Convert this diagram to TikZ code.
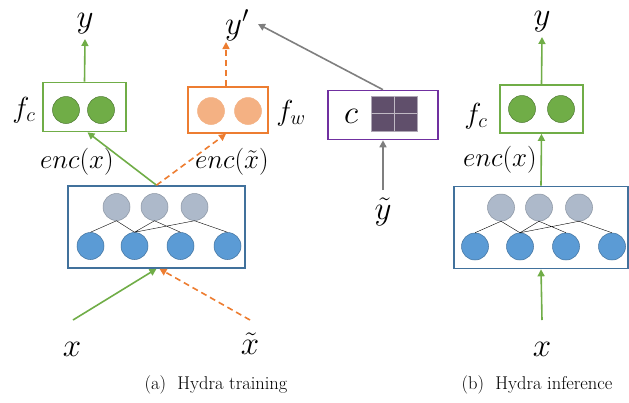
\documentclass[tikz,border=0pt]{standalone}
\usepackage{fix-cm}
\usepackage{amsmath}
\usetikzlibrary{arrows.meta}

\definecolor{grn}{HTML}{70AD47}
\definecolor{org}{HTML}{ED7D31}
\definecolor{peach}{HTML}{F4B183}
\definecolor{encblue}{HTML}{41719C}
\definecolor{inblue}{HTML}{5B9BD5}
\definecolor{hidgray}{HTML}{ADB9CA}
\definecolor{purp}{HTML}{7030A0}
\definecolor{cgrid}{HTML}{604F6B}
\definecolor{arrgray}{HTML}{7F7F7F}

\tikzset{
  box/.style={draw, line width=1.6pt, fill=white, inner sep=0pt},
  unit/.style={circle, draw, line width=0.5pt, inner sep=0pt, minimum size=27pt},
  hid/.style={unit, fill=hidgray, draw=hidgray!80!black},
  inp/.style={unit, fill=inblue, draw=encblue},
  lbl/.style={inner sep=1pt, font=\fontsize{27}{30}\selectfont},
  biglbl/.style={inner sep=1pt, font=\fontsize{33}{36}\selectfont},
  fnlbl/.style={inner sep=1pt, font=\fontsize{29}{32}\selectfont},
  captxt/.style={font=\fontsize{18.5}{20}\selectfont},
  tip/.style={-{Triangle[length=7pt,width=7pt]}},
  garr/.style={tip, draw=grn, line width=1.6pt},
  oarr/.style={tip, draw=org, line width=1.6pt, dash pattern=on 6pt off 4pt},
  karr/.style={tip, draw=arrgray, line width=1.6pt}
}

\begin{document}
\begin{tikzpicture}[x=1pt, y=-1pt]
\useasboundingbox (0,0) rectangle (629,402);

% (a) training
\node[box, draw=encblue, minimum width=177pt, minimum height=82pt] (enca) at (156.5,227) {};
\foreach \dx [count=\i] in {-40,-2,38}
  \node[hid] (ha\i) at ([xshift=\dx pt, yshift=20pt]enca.center) {};
\foreach \dx [count=\i] in {-66,-22,24,71}
  \node[inp] (ia\i) at ([xshift=\dx pt, yshift=-19pt]enca.center) {};
\draw (ha1.south) -- (ia1.north) (ha1.south) -- (ia2.north)
      (ha2.south) -- (ia2.north) (ha2.south) -- (ia3.north)
      (ha3.south) -- (ia2.north) (ha3.south) -- (ia4.north);

\node[box, draw=grn, minimum width=83pt, minimum height=49pt] (fca) at (84.5,107) {};
\node[unit, fill=grn, draw=grn!70!black] (ca1) at (66,110) {};
\node[unit, fill=grn, draw=grn!70!black] (ca2) at (101,110) {};
\node[box, draw=org, minimum width=80pt, minimum height=46pt] (fwa) at (228,110) {};
\node[unit, fill=peach, draw=peach] (wa1) at (211,111) {};
\node[unit, fill=peach, draw=peach] (wa2) at (248,111) {};

\node[fnlbl] (fcla) at (24,110) {$f_c$};
\node[fnlbl] (fwla) at (291,113) {$f_w$};
\node[biglbl] (ya) at (85,24) {$y$};
\node[biglbl] (ypr) at (237,25) {$y'$};
\node[lbl] (encxa) at (77,162) {$enc(x)$};
\node[lbl] (encxt) at (232,162) {$enc(\tilde{x})$};
\node[biglbl] (xa) at (72,349) {$x$};
\node[biglbl] (xt) at (250,344) {$\tilde{x}$};

\coordinate (xa0) at (73,320);
\coordinate (xt0) at (250,320);
\draw[garr] (fca.north) -- (85,39);
\draw[oarr] ([xshift=-2pt]fwa.north) -- (226,42);
\draw[garr] (enca.north) -- ([xshift=3pt]fca.south);
\draw[oarr] (enca.north) -- ([xshift=-2pt]fwa.south);
\draw[garr] (xa0) -- (enca.south);
\draw[oarr] (xt0) -- ([xshift=3pt]enca.south);

\node[captxt] (capa) at (216,385) {(a)\ \ Hydra training};

% c
\node[box, draw=purp, minimum width=110pt, minimum height=49pt] (cbox) at (383,115) {};
\node[biglbl] (cl) at (351,116) {$c$};
\node[fill=cgrid, draw=cgrid!50!white, line width=0.6pt, minimum width=46pt, minimum height=35pt, inner sep=0pt] (grid) at (394,113.5) {};
\draw[cgrid!40!white, line width=0.8pt] (grid.north) -- (grid.south) (grid.west) -- (grid.east);
\node[biglbl] (yt) at (383,212) {$\tilde{y}$};
\draw[karr] (cbox.north) -- (258,24);
\draw[karr] (383,190) -- (cbox.south);

% (b) inference
\node[box, draw=encblue, minimum width=174pt, minimum height=82pt] (encb) at (541,227.5) {};
\foreach \dx [count=\i] in {-40,-2,38}
  \node[hid] (hb\i) at ([xshift=\dx pt, yshift=20pt]encb.center) {};
\foreach \dx [count=\i] in {-66,-21,25,71}
  \node[inp] (ib\i) at ([xshift=\dx pt, yshift=-19pt]encb.center) {};
\draw (hb1.south) -- (ib1.north) (hb1.south) -- (ib2.north)
      (hb2.south) -- (ib2.north) (hb2.south) -- (ib3.north)
      (hb3.south) -- (ib2.north) (hb3.south) -- (ib4.north);

\node[box, draw=grn, minimum width=83pt, minimum height=48pt] (fcb) at (541.5,109) {};
\node[unit, fill=grn, draw=grn!70!black] (cb1) at (522,109) {};
\node[unit, fill=grn, draw=grn!70!black] (cb2) at (561,109) {};

\node[fnlbl] (fclb) at (476,116) {$f_c$};
\node[biglbl] (yb) at (542,22) {$y$};
\node[lbl] (encxb) at (500,160) {$enc(x)$};
\node[biglbl] (xb) at (542,349) {$x$};

\coordinate (xb0) at (542,320);
\draw[garr] (fcb.north) -- (542,37);
\draw[garr] (encb.north) -- (fcb.south);
\draw[garr] (xb0) -- (encb.south);

\node[captxt] (capb) at (537,385) {(b)\ \ Hydra inference};
\end{tikzpicture}
\end{document}
